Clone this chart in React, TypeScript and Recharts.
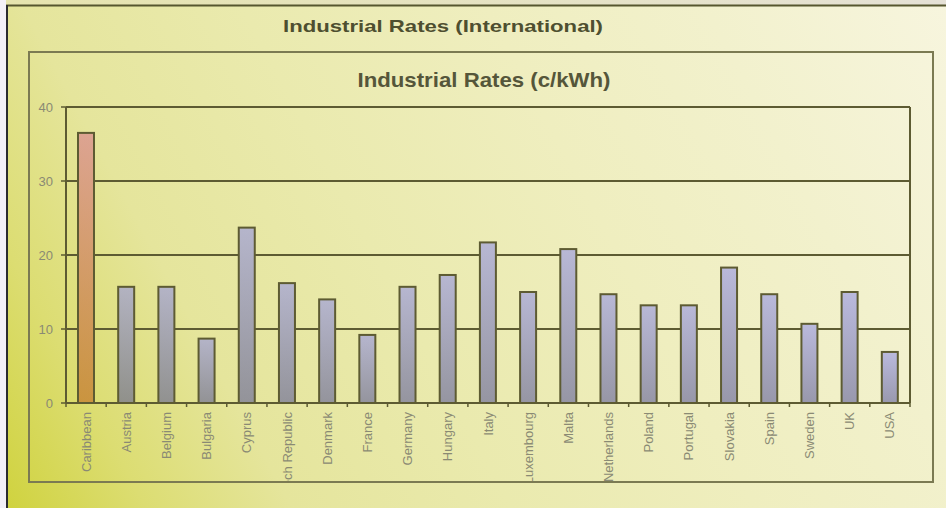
import React from "react";
import { BarChart, Bar, Cell, XAxis, YAxis, CartesianGrid } from "recharts";

const countries = [
  "Caribbean", "Austria", "Belgium", "Bulgaria", "Cyprus", "Czech Republic",
  "Denmark", "France", "Germany", "Hungary", "Italy", "Luxembourg", "Malta",
  "Netherlands", "Poland", "Portugal", "Slovakia", "Spain", "Sweden", "UK", "USA",
];
const rates = [
  36.5, 15.7, 15.7, 8.7, 23.7, 16.2, 14.0, 9.2, 15.7, 17.3, 21.7, 15.0, 20.8,
  14.7, 13.2, 13.2, 18.3, 14.7, 10.7, 15.0, 6.9,
];
const yTicks = [0, 10, 20, 30, 40];
const pageTitle = "Industrial Rates (International)";
const chartTitle = "Industrial Rates (c/kWh)";

const rows = countries.map((name, i) => ({ name, rate: rates[i] }));

const W = 946;
const H = 508;
const LINE = "#5d5b32";
const TICK_SIZE = 4;
const TICK_GAP = 5;

// bars are filled with the page gradient first, so the grid does not show through,
// then a translucent shade on top picks up the tint of the background
const BarShape = (p: any) => {
  const { x, y, width, height, fill } = p;
  if (!height) return null;
  return (
    <g>
      <rect x={x} y={y} width={width} height={height} fill="url(#pageBg)" />
      <rect x={x} y={y} width={width} height={height} fill={fill} stroke={LINE} strokeWidth={2} />
    </g>
  );
};

const CountryTick = (p: any) => {
  const { x, y, payload, index } = p;
  const half = payload?.offset ?? 0;
  const axisY = y - TICK_SIZE - TICK_GAP;
  return (
    <g>
      <line x1={x - half} y1={axisY} x2={x - half} y2={axisY + TICK_SIZE} stroke={LINE} strokeWidth={1.5} />
      {index === countries.length - 1 && (
        <line x1={x + half} y1={axisY} x2={x + half} y2={axisY + TICK_SIZE} stroke={LINE} strokeWidth={1.5} />
      )}
      <g clipPath="url(#labelClip)">
        <text
          x={x}
          y={y}
          dy="0.35em"
          transform={`rotate(-90 ${x} ${y})`}
          textAnchor="end"
          fill="#8a8a74"
          fontSize={13}
          fontFamily="Liberation Sans, Arial, sans-serif"
        >
          {payload.value}
        </text>
      </g>
    </g>
  );
};

export default function App() {
  return (
    <div style={{ position: "absolute", left: 0, top: 0, width: W, height: H }}>
      <svg width={W} height={H} style={{ position: "absolute", left: 0, top: 0 }}>
        <defs>
          <linearGradient id="pageBg" gradientUnits="userSpaceOnUse" x1="0" y1={H} x2={W} y2="0">
            <stop offset="0" stopColor="#cfd23c" />
            <stop offset="0.12" stopColor="#dcdd72" />
            <stop offset="0.24" stopColor="#e5e59c" />
            <stop offset="0.42" stopColor="#eaeaae" />
            <stop offset="0.62" stopColor="#efeebf" />
            <stop offset="0.8" stopColor="#f2f1cd" />
            <stop offset="1" stopColor="#f7f5de" />
          </linearGradient>
          <linearGradient id="topStrip" x1="0" y1="0" x2="1" y2="0">
            <stop offset="0" stopColor="#e6e4ae" />
            <stop offset="1" stopColor="#e5e1d6" />
          </linearGradient>
        </defs>
        <rect x={0} y={0} width={W} height={H} fill="url(#pageBg)" />
        <rect x={0} y={0} width={W} height={5} fill="url(#topStrip)" />
        <rect x={0} y={0} width={6} height={H} fill="#f3f0f8" />
        <line x1={6} y1={5.5} x2={W} y2={5.5} stroke="#56562f" strokeWidth={2} />
        <line x1={7} y1={5} x2={7} y2={H} stroke="#2b2b30" strokeWidth={2} />
        <rect x={29} y={52} width={904} height={430} fill="none" stroke="#7b7a52" strokeWidth={2} />
        <text
          x={443}
          y={32}
          textAnchor="middle"
          fontFamily="Liberation Sans, Arial, sans-serif"
          fontWeight="bold"
          fontSize={17}
          textLength={320}
          lengthAdjust="spacingAndGlyphs"
          fill="#4e4f30"
        >
          {pageTitle}
        </text>
        <text
          x={484}
          y={87}
          textAnchor="middle"
          fontFamily="Liberation Sans, Arial, sans-serif"
          fontWeight="bold"
          fontSize={21}
          textLength={253}
          lengthAdjust="spacingAndGlyphs"
          fill="#55563a"
        >
          {chartTitle}
        </text>
      </svg>
      <div style={{ position: "absolute", left: 0, top: 0 }}>
        <BarChart
          width={W}
          height={H}
          data={rows}
          margin={{ top: 107, right: 36, bottom: 0, left: 0 }}
          barSize={16}
        >
          <defs>
            <linearGradient id="shade" x1="0" y1="0" x2="0" y2="1">
              <stop offset="0" stopColor="#8c8ceb" stopOpacity={0.55} />
              <stop offset="1" stopColor="#505096" stopOpacity={0.55} />
            </linearGradient>
            <linearGradient id="shadeHi" x1="0" y1="0" x2="0" y2="1">
              <stop offset="0" stopColor="#d7788c" stopOpacity={0.6} />
              <stop offset="1" stopColor="#be641e" stopOpacity={0.6} />
            </linearGradient>
            <clipPath id="labelClip">
              <rect x={0} y={0} width={W} height={481} />
            </clipPath>
          </defs>
          <CartesianGrid
            stroke={LINE}
            strokeWidth={2}
            horizontal
            vertical
            verticalCoordinatesGenerator={({ offset }: any) => [offset.left + offset.width]}
          />
          <XAxis
            dataKey="name"
            interval={0}
            height={105}
            tickLine={false}
            tickSize={TICK_SIZE}
            tickMargin={TICK_GAP}
            axisLine={{ stroke: LINE, strokeWidth: 2 }}
            tick={<CountryTick />}
          />
          <YAxis
            width={66}
            domain={[0, 40]}
            ticks={yTicks}
            interval={0}
            tickSize={5}
            tickMargin={8}
            axisLine={{ stroke: LINE, strokeWidth: 2 }}
            tickLine={{ stroke: LINE, strokeWidth: 1.5 }}
            tick={{ fill: "#8a8a74", fontSize: 13, fontFamily: "Liberation Sans, Arial, sans-serif" }}
          />
          <Bar dataKey="rate" isAnimationActive={false} shape={BarShape}>
            {rows.map((r, i) => (
              <Cell key={r.name} fill={i === 0 ? "url(#shadeHi)" : "url(#shade)"} />
            ))}
          </Bar>
        </BarChart>
      </div>
    </div>
  );
}
